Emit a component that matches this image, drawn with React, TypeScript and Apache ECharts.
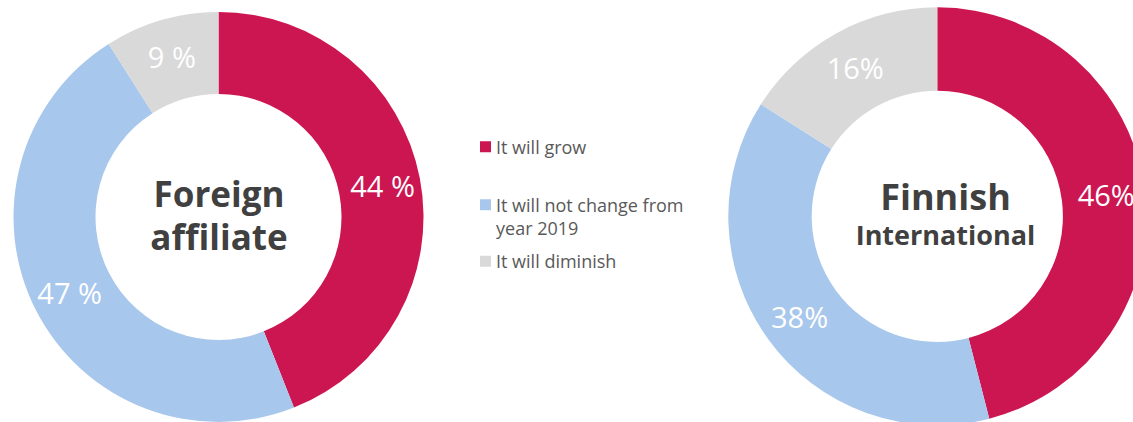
import React, { useEffect, useRef } from "react";
import * as echarts from "echarts";

const categories = ["It will grow", "It will not change from\nyear 2019", "It will diminish"];
const foreignValues = [44, 47, 9];
const finnishValues = [46, 38, 16];
const colors = ["#CC1652", "#A8C7EC", "#D9D9D9"];
const foreignTitle = ["Foreign", "affiliate"];
const finnishTitle = ["Finnish", "International"];

const FONT = '"Open Sans", "Noto Sans", sans-serif';

export default function App() {
  const ref = useRef<HTMLDivElement>(null);
  useEffect(() => {
    if (!ref.current) return;
    const chart = echarts.init(ref.current, null, { renderer: "svg" });
    const mkData = (vals: number[]) =>
      vals.map((v, i) => ({ name: categories[i], value: v, itemStyle: { color: colors[i] } }));
    const labelBase = {
      show: true,
      position: "inside" as const,
      color: "#ffffff",
      fontSize: 29,
      fontFamily: FONT,
    };
    const legendBase = {
      orient: "vertical" as const,
      left: 480,
      padding: 0,
      itemWidth: 11,
      itemHeight: 11,
      icon: "rect",
      selectedMode: false,
      textStyle: { fontSize: 18, fontFamily: FONT, color: "#595959", lineHeight: 23.5 },
    };
    chart.setOption({
      animation: false,
      legend: [
        { ...legendBase, top: 135, data: [categories[0]] },
        {
          ...legendBase,
          top: 169.5,
          data: [categories[1]],
          formatter: (name: string) => "\n" + name,
        },
        { ...legendBase, top: 249.5, data: [categories[2]] },
      ],
      series: [
        {
          type: "pie",
          center: [218.5, 217],
          radius: [123, 205],
          startAngle: 90,
          clockwise: true,
          silent: true,
          label: { ...labelBase, formatter: "{c} %" },
          labelLine: { show: false },
          itemStyle: { borderWidth: 0 },
          data: mkData(foreignValues),
        },
        {
          type: "pie",
          center: [937.3, 216.3],
          radius: [125.6, 209],
          startAngle: 90,
          clockwise: true,
          silent: true,
          label: { ...labelBase, formatter: "{c}%" },
          labelLine: { show: false },
          itemStyle: { borderWidth: 0 },
          data: mkData(finnishValues),
        },
      ],
      graphic: [
        {
          type: "text",
          x: 219,
          y: 193,
          style: { text: foreignTitle[0], font: `bold 35px ${FONT}`, fill: "#404040", align: "center", verticalAlign: "middle" },
        },
        {
          type: "text",
          x: 219,
          y: 236.5,
          style: { text: foreignTitle[1], font: `bold 35px ${FONT}`, fill: "#404040", align: "center", verticalAlign: "middle" },
        },
        {
          type: "text",
          x: 945.5,
          y: 196,
          style: { text: finnishTitle[0], font: `bold 36px ${FONT}`, fill: "#404040", align: "center", verticalAlign: "middle" },
        },
        {
          type: "text",
          x: 945.5,
          y: 234.5,
          style: { text: finnishTitle[1], font: `bold 27px ${FONT}`, fill: "#404040", align: "center", verticalAlign: "middle" },
        },
      ],
    });
    return () => chart.dispose();
  }, []);
  return (
    <div
      ref={ref}
      style={{ position: "fixed", left: 0, top: 0, width: 1133, height: 422, background: "#ffffff" }}
    />
  );
}
